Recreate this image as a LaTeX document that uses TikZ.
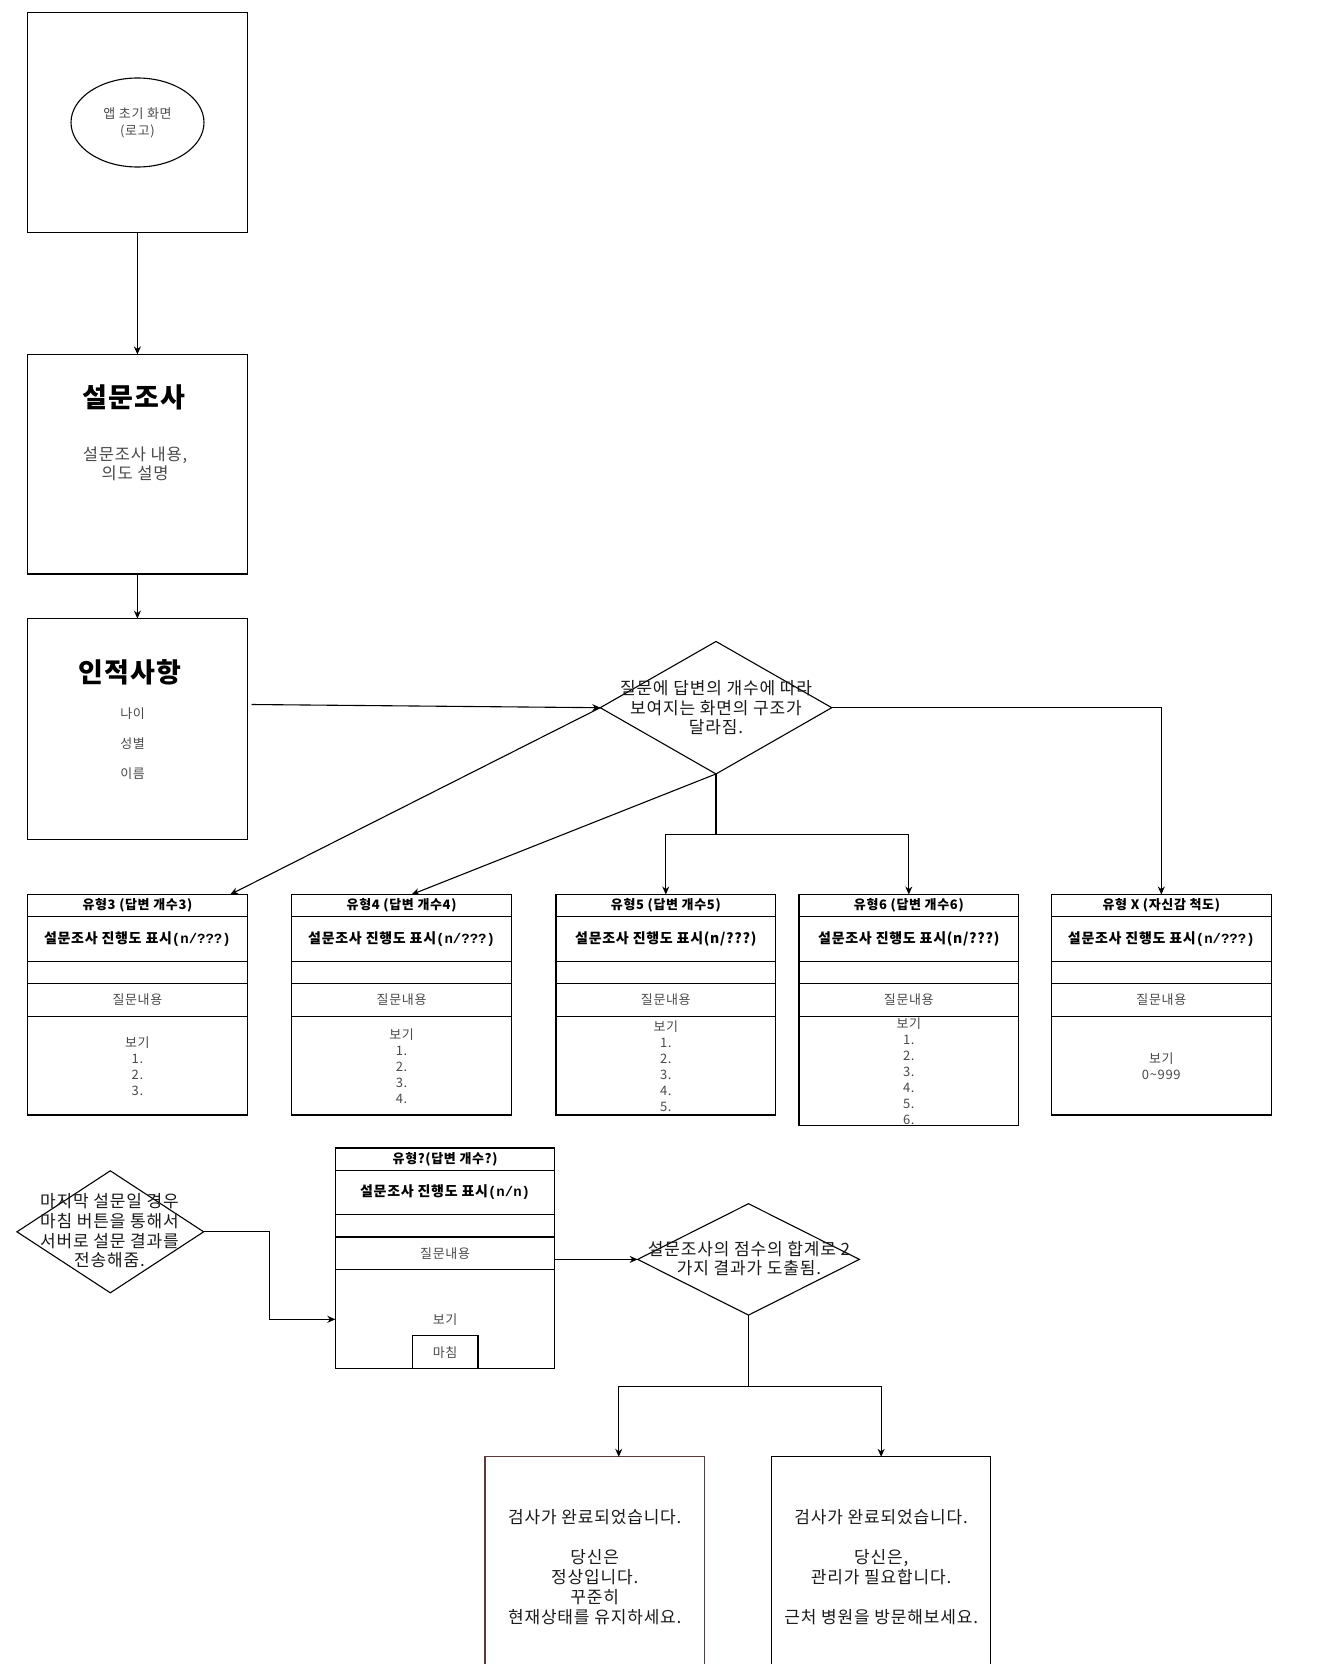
\documentclass[tikz,border=0pt]{standalone}
\usepackage{fontspec}
\setmainfont[LetterSpace=5]{Noto Sans CJK KR}
\newfontfamily\cmono{Liberation Mono}
\usetikzlibrary{shapes.geometric,arrows.meta}
\definecolor{txtgray}{HTML}{4A4A4A}
\definecolor{brownline}{HTML}{5A3A3A}
\definecolor{txtdark}{HTML}{1A1A1A}
\newcommand{\kHdr}{\bfseries\fontsize{13}{15}\selectfont}
\newcommand{\kPrg}{\bfseries\fontsize{14}{16}\selectfont}
\newcommand{\kSm}{\fontsize{13}{16}\selectfont}
\newcommand{\kMid}{\fontsize{17}{19.8}\selectfont}
\newcommand{\qform}[5]{%
  \node[row, minimum height=22.2pt, font=\kHdr] (#1h) at (#2,#3) {#4};
  \node[row, minimum height=44.6pt, font=\kPrg] (#1p) at (#1h.south west) {#5};
  \node[row, minimum height=22.2pt] (#1e) at (#1p.south west) {};
  \node[row, minimum height=32.9pt, font=\kSm, text=txtgray] (#1q) at (#1e.south west) {질문내용};
}
\begin{document}
\begin{tikzpicture}[x=1pt,y=-1pt,line width=1.1pt,
  every node/.style={inner sep=0pt, outer sep=0pt},
  box/.style={draw, anchor=north west, minimum width=219.6pt},
  row/.style={draw, anchor=north west, minimum width=219.6pt, align=center},
  opt/.style={row, font=\kSm, text=txtgray},
  arr/.style={-{Stealth[length=8pt,width=7pt]}},
  dia/.style={draw, diamond, inner sep=0pt},
  dtext/.style={align=center, font=\kMid, text=txtdark},
  res/.style={draw, anchor=north west, minimum width=219.5pt, minimum height=220pt, align=center, font=\fontsize{17}{20}\selectfont, text=txtdark}]
\useasboundingbox (0,0) rectangle (1340,1664);
\clip (0,0) rectangle (1340,1664);
\fill[white] (0,0) rectangle (1340,1664);

% top column
\node[box, minimum height=219.7pt] (b1) at (27.6,12.7) {};
\node[draw, ellipse, minimum width=133pt, minimum height=89pt, align=center, font=\fontsize{13}{17}\selectfont, text=txtgray] (logo) at (137.5,122.5) {앱 초기 화면\\(로고)};

\node[box, minimum height=219.6pt] (b2) at (27.6,354.4) {};
\node[font=\bfseries\fontsize{27}{30}\selectfont] (b2t) at (134,397) {설문조사};
\node[align=center, font=\fontsize{16.5}{19}\selectfont, text=txtgray] (b2s) at (135,463.5) {설문조사 내용,\\의도 설명};

\node[box, minimum height=220.7pt] (b3) at (27.6,618.6) {};
\node[font=\bfseries\fontsize{27}{30}\selectfont] (b3t) at (130,672) {인적사항};
\node[align=center, font=\fontsize{13}{29.7}\selectfont, text=txtgray] (b3i) at (132.6,743.8) {나이\\성별\\이름};

\draw[arr] (b1.south) -- (b2.north);
\draw[arr] (b2.south) -- (b3.north);

% decision 1
\node[dia, minimum width=231.5pt, minimum height=132.5pt] (d1) at (716,707.7) {};
\node[dtext] (d1t) at (716,707.7) {질문에 답변의 개수에 따라\\보여지는 화면의 구조가\\달라짐.};
\coordinate (c3) at (251.5,704.5);
\draw[arr] (c3) -- (d1.west);

% question forms
\qform{t3}{27.6}{894.5}{유형3 (답변 개수3)}{설문조사 진행도 표시{\cmono\bfseries(n/???)}}
\node[opt, minimum height=98.6pt] (t3o) at (t3q.south west) {보기\\1.\\2.\\3.};
\qform{t4}{291.8}{894.5}{유형4 (답변 개수4)}{설문조사 진행도 표시{\cmono\bfseries(n/???)}}
\node[opt, minimum height=98.6pt] (t4o) at (t4q.south west) {보기\\1.\\2.\\3.\\4.};
\qform{t5}{556}{894.5}{유형5 (답변 개수5)}{설문조사 진행도 표시(n/???)}
\node[opt, minimum height=98.6pt] (t5o) at (t5q.south west) {보기\\1.\\2.\\3.\\4.\\5.};
\qform{t6}{799}{894.5}{유형6 (답변 개수6)}{설문조사 진행도 표시(n/???)}
\node[opt, minimum height=109.3pt] (t6o) at (t6q.south west) {보기\\1.\\2.\\3.\\4.\\5.\\6.};
\qform{tx}{1051.5}{894.5}{유형 X (자신감 척도)}{설문조사 진행도 표시{\cmono\bfseries(n/???)}}
\node[opt, minimum height=98.6pt] (txo) at (txq.south west) {보기\\0\textasciitilde999};

\draw[arr] (d1.west) -- ([xshift=-17pt]t3h.north east);
\draw[arr] (d1.south) -- ([xshift=10pt]t4h.north);
\draw[arr] (d1.south) -- ++(0,60.5) -| (t5h.north);
\draw[arr] (d1.south) -- ++(0,60.5) -| (t6h.north);
\draw[arr] (d1.east) -| (txh.north);

% bottom part
\node[dia, minimum width=186.7pt, minimum height=122pt] (d2) at (110.3,1231.8) {};
\node[dtext] (d2t) at (109.5,1230.8) {마지막 설문일 경우\\마침 버튼을 통해서\\서버로 설문 결과를\\전송해줌.};

\qform{q}{335.3}{1148}{유형?(답변 개수?)}{설문조사 진행도 표시{\cmono\bfseries(n/n)}}
\node[opt, minimum height=98.8pt] (qo) at (qq.south west) {보기};
\node[draw, anchor=south, minimum width=65.8pt, minimum height=32.9pt, font=\kSm, text=txtgray] (qb) at (qo.south) {마침};

\draw[arr] (d2.east) -- ++(65.8,0) |- (qo.west);

\node[dia, minimum width=221.7pt, minimum height=111.4pt] (d3) at (748.5,1259.4) {};
\node[dtext] (d3t) at (749,1258.5) {설문조사의 점수의 합계로 2\\가지 결과가 도출됨.};
\draw[arr] (d3.west -| qq.east) -- (d3.west);

\node[res, draw=brownline] (r1) at (485,1456.8) {검사가 완료되었습니다.\\[20pt]당신은\\정상입니다.\\꾸준히\\현재상태를 유지하세요.};
\node[res] (r2) at (771.4,1456.8) {검사가 완료되었습니다.\\[20pt]당신은,\\관리가 필요합니다.\\[20pt]근처 병원을 방문해보세요.};

\draw[arr] (d3.south) -- ++(0,71) -| ([xshift=24pt]r1.north);
\draw[arr] (d3.south) -- ++(0,71) -| (r2.north);
\end{tikzpicture}
\end{document}
